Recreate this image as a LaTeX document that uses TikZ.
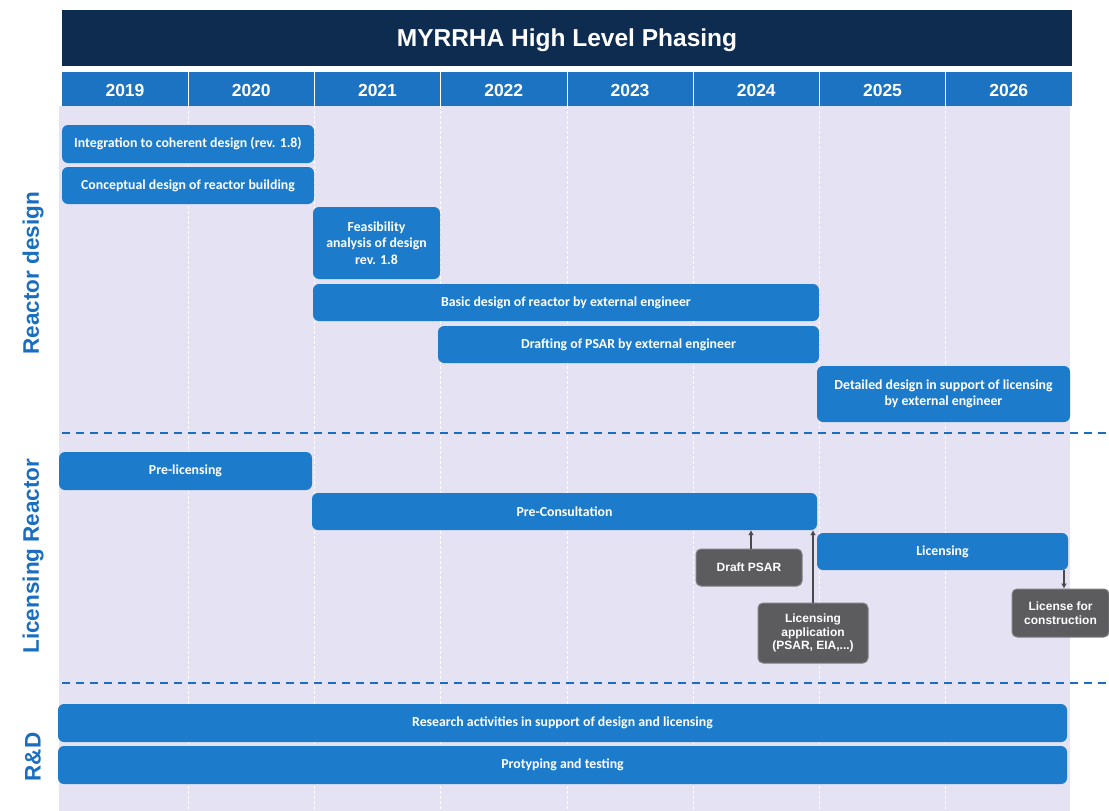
\documentclass[tikz,border=0pt]{standalone}
\usepackage{fontspec}
\setmainfont{Liberation Sans}
\newfontfamily\carl{Carlito}
\usetikzlibrary{arrows.meta}
\definecolor{navy}{HTML}{0E2B50}
\definecolor{yearblue}{HTML}{1B73C2}
\definecolor{barblue}{HTML}{1C7CCB}
\definecolor{lav}{HTML}{E5E2F4}
\definecolor{labelblue}{HTML}{1A6EC0}
\definecolor{boxgray}{HTML}{5C5C5F}
\definecolor{boxedge}{HTML}{808083}
\definecolor{arrowgray}{HTML}{4A4A4C}
\tikzset{
  bluebar/.style={fill=barblue, rounded corners=6pt, text=white, inner sep=0pt, align=center,
    font=\carl\bfseries\fontsize{13.8}{16.5}\selectfont},
  graybox/.style={fill=boxgray, draw=boxedge, line width=1pt, rounded corners=5pt, text=white, inner sep=0pt,
    align=center, font=\bfseries\fontsize{12}{13.5}\selectfont},
  yearlbl/.style={text=white, font=\bfseries\fontsize{17.5}{19}\selectfont},
  sidelbl/.style={rotate=90, text=labelblue, font=\bfseries\fontsize{22.5}{26}\selectfont},
  sepline/.style={draw=labelblue, line width=1.8pt, dash pattern=on 8pt off 6pt},
  colsep/.style={draw=white, line width=0.8pt, dash pattern=on 3pt off 2pt},
  milestone/.style={draw=arrowgray, line width=2.5pt, -{Latex[length=5pt,width=6pt]}},
}
\newcommand\taskbar[6]{%
  \node[bluebar, minimum width=#4pt-#2pt, minimum height=#5pt-#3pt] (#1) at ({(#2+#4)/2},{(#3+#5)/2}) {#6};}
\newcommand\msbox[6]{%
  \node[graybox, minimum width=#4pt-#2pt, minimum height=#5pt-#3pt] (#1) at ({(#2+#4)/2},{(#3+#5)/2}) {#6};}
\begin{document}
\begin{tikzpicture}[x=1pt,y=-1pt]
\useasboundingbox (0,0) rectangle (1109,811);
\fill[white] (0,0) rectangle (1109,811);
% lavender background
\fill[lav] (59,106) rectangle (1070,811);
% title bar
\fill[navy] (62,10) rectangle (1072,66);
\node[text=white, font=\bfseries\fontsize{24.5}{28}\selectfont] (title) at (567,40) {MYRRHA High Level Phasing};
% year bar
\fill[yearblue] (62,72) rectangle (1072,106);
\foreach \i/\yr in {0/2019,1/2020,2/2021,3/2022,4/2023,5/2024,6/2025,7/2026}{
  \node[yearlbl] (y\yr) at ({62+126.25*\i+63},90) {\yr};
}
\foreach \i in {1,...,7}{
  \draw[white, line width=0.8pt] ({62+126.25*\i},72) -- ({62+126.25*\i},106);
  \draw[colsep] ({62+126.25*\i},106) -- ({62+126.25*\i},811);
}
% section separators
\draw[sepline] (62,433) -- (1109,433);
\draw[sepline] (62,683) -- (1109,683);
% side labels
\node[sidelbl] (lrd) at (33,273) {Reactor design};
\node[sidelbl] (llr) at (33,556) {Licensing Reactor};
\node[sidelbl] (lrnd) at (33,757) {R\&D};
% reactor design bars
\taskbar{integ}{62}{125}{314}{163}{Integration to coherent design (rev. 1.8)}
\taskbar{concept}{62}{167}{314}{204}{Conceptual design of reactor building}
\taskbar{feas}{313}{207}{440}{279}{Feasibility\\analysis of design\\rev. 1.8}
\taskbar{basic}{313}{284}{819}{321}{Basic design of reactor by external engineer}
\taskbar{draft}{438}{326}{819}{363}{Drafting of PSAR by external engineer}
\taskbar{detail}{817}{366}{1070}{422}{Detailed design in support of licensing\\by external engineer}
% licensing bars
\taskbar{prelic}{59}{452}{312}{490}{Pre-licensing}
\taskbar{precons}{312}{493}{817}{530}{Pre-Consultation}
\taskbar{lic}{817}{533}{1068}{570}{Licensing}
% milestones
\msbox{dpsar}{696}{549}{802}{586}{Draft PSAR}
\msbox{licapp}{758}{603}{868}{663}{Licensing\\application\\(PSAR, EIA,...)}
\msbox{licc}{1012}{589}{1109}{637}{License for\\construction}
\draw[milestone] (dpsar.north -| 751,0) -- (precons.south -| 751,0);
\draw[milestone] (licapp.north -| 813,0) -- (precons.south -| 813,0);
\draw[milestone] (lic.south -| 1064,0) -- (licc.north -| 1064,0);
% R&D bars
\taskbar{research}{58}{704}{1067}{742}{Research activities in support of design and licensing}
\taskbar{proto}{58}{746}{1067}{784}{Protyping and testing}
\end{tikzpicture}
\end{document}
